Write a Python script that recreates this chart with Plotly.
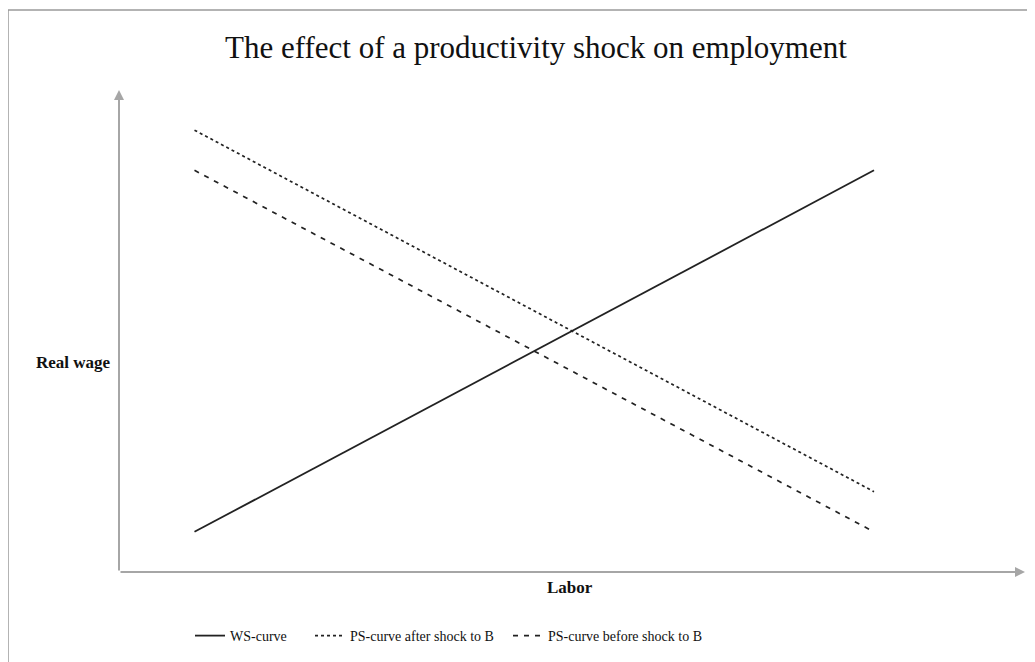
import plotly.graph_objects as go

labor = [1, 10]
ws_curve = [1, 10]
ps_after = [11, 2]
ps_before = [10, 1]

series_names = ["WS-curve", "PS-curve after shock to B", "PS-curve before shock to B"]

OFF = 8  # page body offset
W, H = 1035, 662
L, R, T, B = 111, 18, 82, 98
pw, ph = W - L - R, H - T - B

def px_x(p):
    return (p - OFF - L) / pw

def px_y(p):
    return (H - B - (p - OFF)) / ph

SERIF = "Liberation Serif, Times New Roman, serif"
LINE = "#222222"
AXIS = "#a6a6a6"

fig = go.Figure()
fig.add_trace(go.Scatter(x=labor, y=ws_curve, mode="lines", name=series_names[0],
                         legendwidth=75,
                         line=dict(color=LINE, width=1.8)))
fig.add_trace(go.Scatter(x=labor, y=ps_after, mode="lines", name=series_names[1],
                         legendwidth=153,
                         line=dict(color=LINE, width=1.7, dash="3px,3px")))
fig.add_trace(go.Scatter(x=labor, y=ps_before, mode="lines", name=series_names[2],
                         line=dict(color=LINE, width=1.7, dash="5px,6px")))

annotations = [
    dict(x=12, y=0, ax=0, ay=0, xref="x", yref="y", axref="x", ayref="y", text="",
         showarrow=True, arrowhead=2, arrowsize=1, arrowwidth=2, arrowcolor=AXIS),
    dict(x=0, y=12, ax=0, ay=0, xref="x", yref="y", axref="x", ayref="y", text="",
         showarrow=True, arrowhead=2, arrowsize=1, arrowwidth=2, arrowcolor=AXIS),
    dict(x=px_x(536), y=px_y(47), xref="paper", yref="paper", showarrow=False,
         text="The effect of a productivity shock on employment",
         font=dict(family=SERIF, size=31, color="#111"), xanchor="center", yanchor="middle"),
    dict(x=px_x(113), y=px_y(362), xref="paper", yref="paper", showarrow=False,
         text="<b>Real wage</b>", font=dict(family=SERIF, size=17, color="#111"),
         xanchor="right", yanchor="middle"),
    dict(x=px_x(570), y=px_y(587), xref="paper", yref="paper", showarrow=False,
         text="<b>Labor</b>", font=dict(family=SERIF, size=17, color="#111"),
         xanchor="center", yanchor="middle"),
]

shapes = [
    dict(type="rect", xref="paper", yref="paper",
         x0=px_x(8), x1=px_x(1100), y0=px_y(10), y1=px_y(720),
         line=dict(color="#9a9a9a", width=1.5), fillcolor="rgba(0,0,0,0)", layer="below"),
]

fig.update_layout(
    width=W, height=H,
    margin=dict(l=L, r=R, t=T, b=B, pad=0),
    paper_bgcolor="white", plot_bgcolor="white",
    xaxis=dict(range=[0, 12], visible=False, fixedrange=True),
    yaxis=dict(range=[0, 12], visible=False, fixedrange=True),
    showlegend=True,
    legend=dict(orientation="h", x=px_x(190), y=px_y(636), xanchor="left", yanchor="middle",
                font=dict(family=SERIF, size=14, color="#111"), bgcolor="rgba(0,0,0,0)"),
    annotations=annotations,
    shapes=shapes,
)

fig.write_html("out.html")
